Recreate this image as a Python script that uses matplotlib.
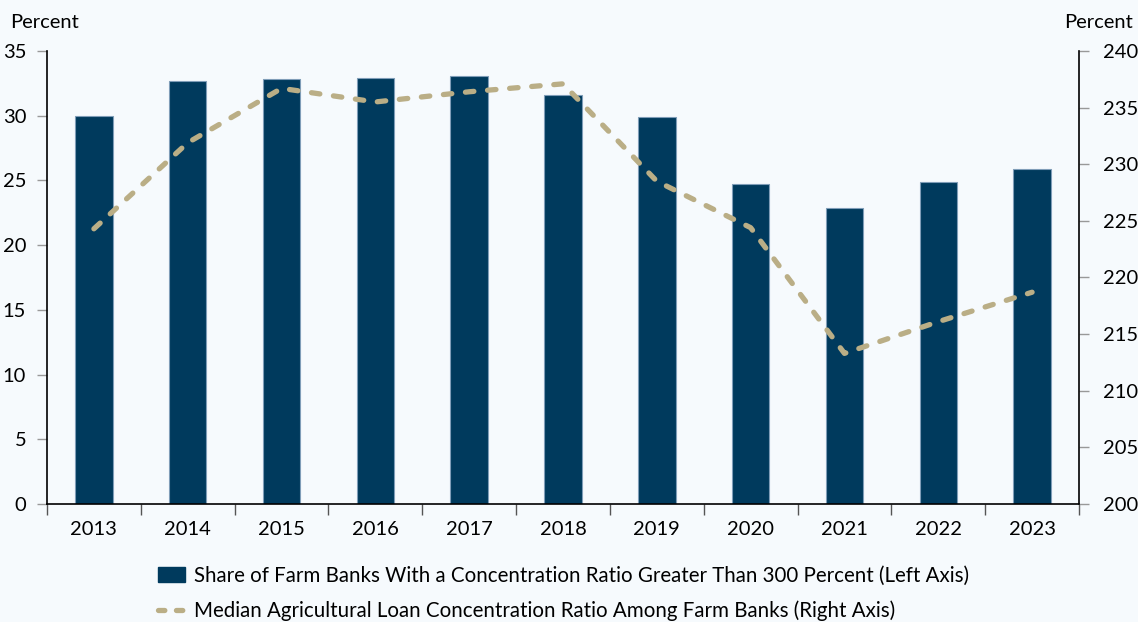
import matplotlib.pyplot as plt
import numpy as np
from matplotlib.patches import Patch
from matplotlib.lines import Line2D

plt.rcParams['font.family'] = ['Lato', 'DejaVu Sans']

years = ["2013", "2014", "2015", "2016", "2017", "2018", "2019", "2020", "2021", "2022", "2023"]
share_over_300 = [30.0, 32.7, 32.8, 32.9, 33.1, 31.6, 29.9, 24.7, 22.9, 24.9, 25.85]
median_ratio = [224.3, 231.9, 236.7, 235.5, 236.4, 237.1, 228.5, 224.4, 213.3, 216.1, 218.7]

bar_label = "Share of Farm Banks With a Concentration Ratio Greater Than 300 Percent (Left Axis)"
line_label = "Median Agricultural Loan Concentration Ratio Among Farm Banks (Right Axis)"

bg = "#F6FAFD"
navy = "#003A5D"
tan = "#BAAE86"
fs = 14.5

fig = plt.figure(figsize=(11.38, 6.22), dpi=100, facecolor=bg)
ax = fig.add_axes([47 / 1138, 118 / 622, 1032 / 1138, 453 / 622])
ax.set_facecolor(bg)

x = np.arange(len(years))
ax.bar(x, share_over_300, width=0.4, color=navy, edgecolor="#7F9DB8", linewidth=0.8, zorder=2)
ax.set_xlim(-0.5, len(years) - 0.5)
ax.set_ylim(0, 35)
ax.set_yticks(range(0, 36, 5))

# year labels sit between the boundary ticks
ax.set_xticks(np.arange(-0.5, len(years), 1.0))
ax.set_xticklabels([])
ax.set_xticks(x, minor=True)
ax.set_xticklabels(years, minor=True)
ax.tick_params(axis="x", which="major", length=8, width=1, color="#555555", direction="out")
ax.tick_params(axis="x", which="minor", length=0, pad=12, labelsize=fs)
ax.tick_params(axis="y", length=7, width=1, color="#999999", pad=8, labelsize=fs)

for s in ["top", "right"]:
    ax.spines[s].set_visible(False)
ax.spines["left"].set_color("black")
ax.spines["bottom"].set_color("black")
ax.spines["left"].set_linewidth(1.2)
ax.spines["bottom"].set_linewidth(1.2)

ax2 = ax.twinx()
ax2.plot(x, median_ratio, color=tan, linewidth=3.8, linestyle=(0, (1.6, 2.6)),
         dash_capstyle="round", solid_joinstyle="round", zorder=3)
ax2.set_ylim(200, 240)
ax2.set_yticks(range(200, 241, 5))
ax2.tick_params(axis="y", length=7, width=1, color="#999999", pad=10, labelsize=fs)
for s in ["top", "left", "bottom"]:
    ax2.spines[s].set_visible(False)
ax2.spines["right"].set_color("black")
ax2.spines["right"].set_linewidth(1.2)

fig.text(10 / 1138, 1 - 22 / 622, "Percent", fontsize=fs, ha="left", va="center")
fig.text(1133 / 1138, 1 - 22 / 622, "Percent", fontsize=fs, ha="right", va="center")

handles = [
    Patch(facecolor=navy, edgecolor=navy),
    Line2D([0], [0], color=tan, linewidth=3.8, linestyle=(0, (1.2, 2.2)), dash_capstyle="round"),
]
fig.legend(handles, [bar_label, line_label], loc="upper left",
           bbox_to_anchor=(158 / 1138, 1 - 566 / 622), frameon=False, fontsize=14.8,
           handlelength=1.3, handleheight=0.75, handletextpad=0.45, labelspacing=0.72,
           borderaxespad=0, borderpad=0)

fig.savefig("out.png", dpi=100, facecolor=bg)
